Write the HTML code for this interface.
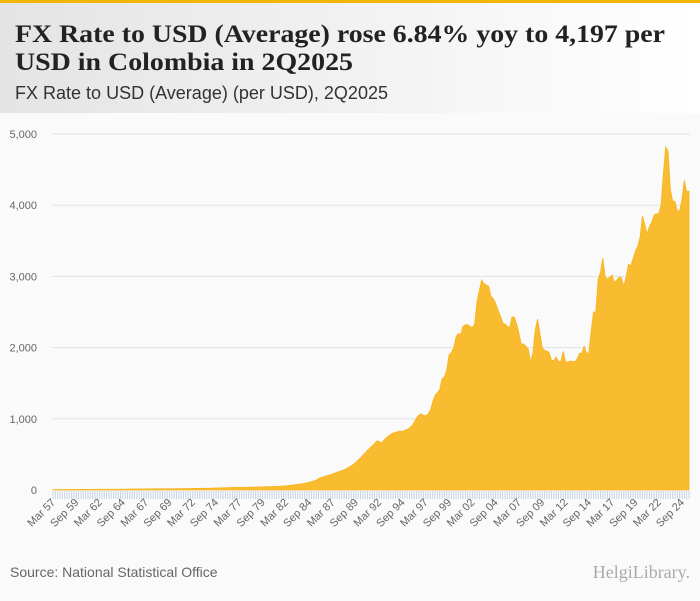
<!DOCTYPE html>
<html><head><meta charset="utf-8"><style>
body{margin:0;width:700px;height:596px;overflow:hidden;background:#fafafa;font-family:"Liberation Sans",sans-serif}
</style></head><body>
<svg id="c" width="700" height="596" xmlns="http://www.w3.org/2000/svg">
<defs><linearGradient id="hg" x1="0" x2="1"><stop offset="0" stop-color="#e4e4e4"/><stop offset="1" stop-color="#ffffff"/></linearGradient></defs>
<rect x="0" y="0" width="700" height="596" fill="#fafafa"/>
<rect x="0" y="3" width="700" height="110" fill="url(#hg)"/>
<rect x="0" y="0" width="700" height="3" fill="#f5b400"/>
<text x="15" y="42" font-family="Liberation Serif,serif" font-weight="bold" font-size="25" fill="#222" textLength="650" lengthAdjust="spacingAndGlyphs">FX Rate to USD (Average) rose 6.84% yoy to 4,197 per</text>
<text x="15" y="70" font-family="Liberation Serif,serif" font-weight="bold" font-size="25" fill="#222" textLength="338" lengthAdjust="spacingAndGlyphs">USD in Colombia in 2Q2025</text>
<text x="15" y="99" font-size="18" fill="#333" textLength="373" lengthAdjust="spacingAndGlyphs">FX Rate to USD (Average) (per USD), 2Q2025</text>
<g id="grid"></g><g id="plot"></g><g id="xl"></g>
<text x="10" y="577" font-size="14" fill="#666">Source: National Statistical Office</text>
<text x="690" y="578" text-anchor="end" font-family="Liberation Serif,serif" font-size="18" fill="#aaa">HelgiLibrary.</text>
</svg>
<script>
const startYear = 1957;
const quarterNames = ["Mar","Jun","Sep","Dec"];
const yTicks = [0,1000,2000,3000,4000,5000];
const yTickLabels = ["0","1,000","2,000","3,000","4,000","5,000"];
const values = [
5,6,6,6, 7,7,7,8, 8,8,8,8, 8,9,9,9, 9,9,10,10, 10,10,10,10, 11,11,11,11, 11,11,11,12,
12,13,13,14, 14,15,15,15, 16,16,16,17, 17,17,17,17, 17,17,18,18, 18,19,19,19, 20,20,21,21,
22,22,23,23, 24,24,25,25, 26,27,28,29, 30,31,32,33, 34,35,36,37, 37,37,38,38, 39,40,40,41,
42,43,44,45, 45,47,48,50, 51,53,56,58, 60,63,67,70, 74,78,84,88, 94,100,108,117,
128,140,160,175, 185,195,205,214, 225,238,250,262, 272,285,300,320, 340,360,390,420,
450,490,520,560, 590,620,650,690, 680,660,700,730, 760,780,800,810, 820,830,820,840,
850,870,900,950, 1010,1050,1070,1050, 1040,1070,1120,1240, 1330,1370,1410,1560,
1590,1680,1900,1930, 2000,2150,2200,2180, 2300,2320,2320,2300, 2280,2330,2650,2800,
2950,2900,2880,2860, 2720,2690,2620,2530, 2450,2350,2330,2300, 2280,2430,2430,2330,
2200,2050,2050,2020, 1980,1800,1920,2250, 2400,2200,2000,1960, 1950,1930,1820,1820,
1870,1800,1810,1950, 1800,1800,1810,1810, 1800,1840,1920,1920, 2020,1920,1930,2230,
2500,2500,2960,3060, 3260,3000,2960,2990, 3020,2910,2950,2990, 2980,2860,2990,3170,
3150,3250,3360,3420, 3550,3850,3730,3600, 3700,3760,3860,3880, 3880,4000,4450,4820,
4760,4220,4060,4050, 3920,3920,4090,4350, 4190,4197];
const NS="http://www.w3.org/2000/svg";
const x0=53,x1=689,yBase=490,yTop=134,yMax=5000;
const n=values.length;
const xs=i=>x0+(x1-x0)*i/(n-1);
const ys=v=>yBase-(yBase-yTop)*v/yMax;
const mk=(t,a,p)=>{const e=document.createElementNS(NS,t);for(const k in a)e.setAttribute(k,a[k]);p.appendChild(e);return e;};
const grid=document.getElementById('grid'),plot=document.getElementById('plot'),xl=document.getElementById('xl');
yTicks.forEach((v,i)=>{
  if(v>0){const l=mk('line',{x1:52,x2:690,y1:ys(v),y2:ys(v),stroke:'#e2e2e2','stroke-width':1},grid);
  
  }
  const t=mk('text',{x:37,y:ys(v)+4,'text-anchor':'end','font-size':11,fill:'#666'},grid);
  t.textContent=yTickLabels[i];
  
  
});
let d='M'+xs(0)+','+yBase;
values.forEach((v,i)=>{d+=' L'+xs(i).toFixed(2)+','+ys(v).toFixed(2);});
d+=' L'+xs(n-1)+','+yBase+' Z';
const area=mk('path',{d:d,fill:'#f9bc30',stroke:'#f7b520','stroke-width':0.8},plot);


for(let i=0;i<n;i++){
  const tk=mk('line',{x1:xs(i),x2:xs(i),y1:491,y2:499,stroke:'#c5d3ea','stroke-width':1},xl);
  
  
  if(i%10===0){
    const yr=startYear+Math.floor(i/4);
    const lab=quarterNames[i%4]+' '+String(yr%100).padStart(2,'0');
    const t=mk('text',{x:xs(i)+3,y:503,'text-anchor':'end','font-size':11,fill:'#666',transform:'rotate(-45 '+(xs(i)+3)+' 503)'},xl);
    t.textContent=lab;
    
    
  }
}
</script>
</body></html>
